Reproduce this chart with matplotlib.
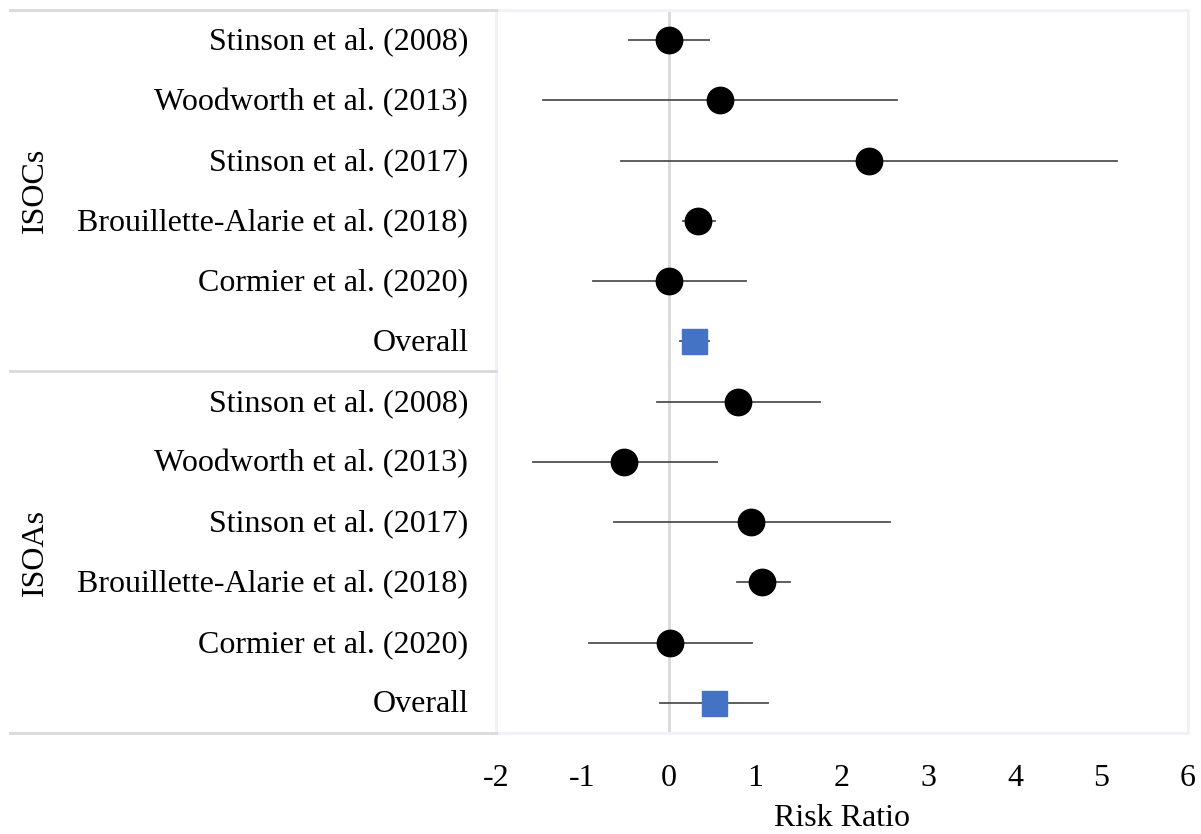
import matplotlib.pyplot as plt
from matplotlib.lines import Line2D

plt.rcParams['font.family'] = ['Liberation Serif', 'DejaVu Serif']

# 数据
groups = ['ISOCs', 'ISOAs']
studies = ['Stinson et al. (2008)', 'Woodworth et al. (2013)', 'Stinson et al. (2017)',
           'Brouillette-Alarie et al. (2018)', 'Cormier et al. (2020)', 'Overall']
isoc_est = [0.00, 0.59, 2.31, 0.34, 0.00, 0.29]
isoc_low = [-0.46, -1.46, -0.55, 0.16, -0.88, 0.13]
isoc_high = [0.46, 2.64, 5.18, 0.53, 0.89, 0.46]
isoa_est = [0.80, -0.52, 0.95, 1.08, 0.01, 0.52]
isoa_low = [-0.14, -1.57, -0.64, 0.79, -0.92, -0.10]
isoa_high = [1.75, 0.55, 2.55, 1.40, 0.96, 1.14]
x_ticks = [-2, -1, 0, 1, 2, 3, 4, 5, 6]

fs = 23

fig = plt.figure(figsize=(12.01, 8.34), dpi=100)
ax = fig.add_axes([496 / 1201, 1 - 733 / 834, 692 / 1201, 723 / 834])

est = isoc_est + isoa_est
low = isoc_low + isoa_low
high = isoc_high + isoa_high
n = len(est)
ys = list(range(n))

# 零线
ax.axvline(0, color='#d9d9d9', lw=2, zorder=1)

for y, e, lo, hi in zip(ys, est, low, high):
    ax.plot([lo, hi], [y, y], color='#505050', lw=1.3, zorder=2)
    if studies[y % len(studies)] == 'Overall':
        ax.plot(e, y, marker='s', ms=18, color='#4472C4', mec='#4472C4', zorder=3)
    else:
        ax.plot(e, y, marker='o', ms=19, color='black', zorder=3)

ax.set_xlim(-2, 6)
ax.set_ylim(n - 0.5, -0.5)
ax.set_yticks([])
ax.set_xticks(x_ticks)
ax.set_xticklabels([str(t) for t in x_ticks], fontsize=fs)
ax.tick_params(axis='x', length=0, pad=22)
ax.set_xlabel('Risk Ratio', fontsize=fs, labelpad=8)
for s in ax.spines.values():
    s.set_color('#eef2f8')
    s.set_linewidth(2)

# 左侧标签
for y in ys:
    ax.text(-0.04, y + 0.03, studies[y % len(studies)], transform=ax.get_yaxis_transform(),
            ha='right', va='center', fontsize=fs)

# 分组
x0 = 10 / 1201
x1 = 496 / 1201
for k, g in enumerate(groups):
    top = 1 - (10 + k * 361.5) / 834
    bot = 1 - (10 + (k + 1) * 361.5) / 834
    fig.text(35 / 1201, (top + bot) / 2, g, rotation=90, ha='center', va='center', fontsize=fs)
for yy in [10, 371, 733]:
    fy = 1 - yy / 834
    fig.add_artist(Line2D([x0, x1], [fy, fy], color='#d9d9d9', lw=2))

plt.savefig('out.png', dpi=100)
